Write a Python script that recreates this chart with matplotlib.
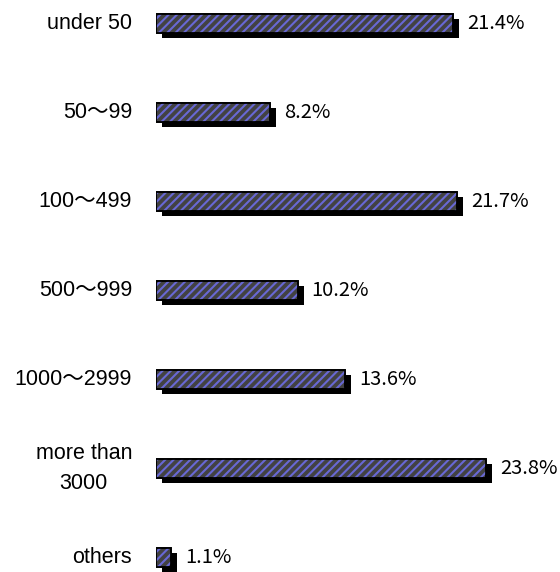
import matplotlib
matplotlib.use("Agg")
import matplotlib.pyplot as plt
import matplotlib.patheffects as pe

categories = ["under 50", "50〜99", "100〜499", "500〜999", "1000〜2999", "more than\n3000", "others"]
values = [21.4, 8.2, 21.7, 10.2, 13.6, 23.8, 1.1]
labels = ["21.4%", "8.2%", "21.7%", "10.2%", "13.6%", "23.8%", "1.1%"]

plt.rcParams['font.family'] = ['Liberation Sans', 'Noto Sans CJK JP', 'DejaVu Sans']
plt.rcParams['hatch.linewidth'] = 1.5

W, H = 560, 572
fig = plt.figure(figsize=(W / 100, H / 100), dpi=100)
left_px = 156
ax = fig.add_axes([left_px / W, 0, 1 - left_px / W, 1])
px_per_unit = 13.88
ax.set_xlim(0, (W - left_px) / px_per_unit)
row_px = 89.0
first_px = 23.5
ax.set_ylim((H - first_px) / row_px, -first_px / row_px)
ax.axis('off')

ypos = list(range(len(categories)))
h = 0.205
shadow = [pe.SimplePatchShadow(offset=(4.3, -3.6), shadow_rgbFace='black', alpha=1.0), pe.Normal()]
ax.barh(ypos, values, height=h, color='#424242', edgecolor='black', linewidth=1.2,
        path_effects=shadow, zorder=2)
ax.barh(ypos, values, height=h, color='none', edgecolor='#6868d4', linewidth=0,
        hatch='////', zorder=3)
ax.barh(ypos, values, height=h, fill=False, edgecolor='black', linewidth=1.3, zorder=4)

for y, v, lab in zip(ypos, values, labels):
    ax.annotate(lab, (v, y), xytext=(14, 0), textcoords='offset pixels',
                ha='left', va='center', fontsize=14.5, color='black',
                family=['Noto Sans CJK JP', 'DejaVu Sans'])
for y, c in zip(ypos, categories):
    ax.annotate(c, (0, y), xytext=(-24, 0), textcoords='offset pixels',
                ha='right', va='center', fontsize=15.5, color='black',
                multialignment='center', linespacing=1.55, annotation_clip=False)

fig.savefig("out.png", dpi=100)
